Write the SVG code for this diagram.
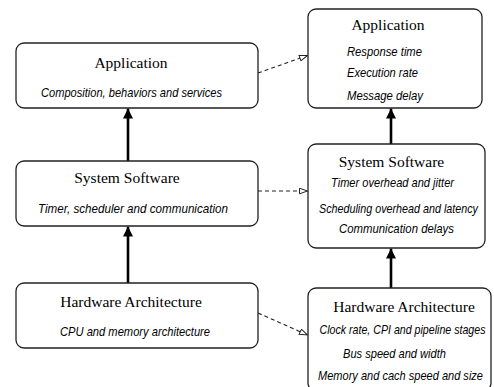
<svg xmlns="http://www.w3.org/2000/svg" width="494" height="387" viewBox="0 0 494 387">
<style>
.box{fill:#fff;stroke:#222;stroke-width:1.3}
.t{font-family:"Liberation Serif","Times New Roman",serif;font-size:15.5px;fill:#000;text-anchor:middle}
.s{font-family:"Liberation Sans",Arial,sans-serif;font-size:13px;font-style:italic;fill:#000}
.m{text-anchor:middle}
.solid{stroke:#000;stroke-width:2.6;fill:none}
.dash{stroke:#222;stroke-width:1.1;fill:none;stroke-dasharray:4 3}
</style>
<defs>
<marker id="solidHead" viewBox="0 0 10 12" refX="10" refY="6" markerWidth="10" markerHeight="12" markerUnits="userSpaceOnUse" orient="auto">
<path d="M0,1 L10,6 L0,11 Z" fill="#000"/>
</marker>
<marker id="openHead" viewBox="0 0 9 7" refX="8.5" refY="3.5" markerWidth="9" markerHeight="7" markerUnits="userSpaceOnUse" orient="auto">
<path d="M0.5,0.7 L8.5,3.5 L0.5,6.3 Z" fill="#fff" stroke="#222" stroke-width="1"/>
</marker>
</defs>
<rect width="494" height="387" fill="#fff"/>
<g id="connectors">
<line class="solid" x1="128" y1="283" x2="128" y2="226.5" marker-end="url(#solidHead)"/>
<line class="solid" x1="128" y1="161" x2="128" y2="108.5" marker-end="url(#solidHead)"/>
<line class="solid" x1="391" y1="288" x2="391" y2="248.5" marker-end="url(#solidHead)"/>
<line class="solid" x1="391" y1="144" x2="391" y2="108.5" marker-end="url(#solidHead)"/>
<line class="dash" x1="258" y1="73" x2="307.5" y2="55.5" marker-end="url(#openHead)"/>
<line class="dash" x1="258" y1="191" x2="307.5" y2="191" marker-end="url(#openHead)"/>
<line class="dash" x1="258" y1="313" x2="307.5" y2="335" marker-end="url(#openHead)"/>
</g>
<g id="left-application">
<rect class="box" x="16" y="43" width="242" height="65" rx="8"/>
<text class="t" x="131" y="68">Application</text>
<text class="s m" x="131.5" y="97" textLength="181" lengthAdjust="spacingAndGlyphs">Composition, behaviors and services</text>
</g>
<g id="left-system-software">
<rect class="box" x="16" y="161" width="242" height="65" rx="8"/>
<text class="t" x="127" y="183">System Software</text>
<text class="s m" x="133" y="213" textLength="190" lengthAdjust="spacingAndGlyphs">Timer, scheduler and communication</text>
</g>
<g id="left-hardware-architecture">
<rect class="box" x="16" y="283" width="242" height="65" rx="8"/>
<text class="t" x="131" y="307">Hardware Architecture</text>
<text class="s m" x="135" y="336" textLength="150" lengthAdjust="spacingAndGlyphs">CPU and memory architecture</text>
</g>
<g id="right-application">
<rect class="box" x="308" y="9" width="174" height="99" rx="8"/>
<text class="t" x="388" y="30">Application</text>
<text class="s" x="347" y="56" textLength="75" lengthAdjust="spacingAndGlyphs">Response time</text>
<text class="s" x="347" y="77" textLength="71" lengthAdjust="spacingAndGlyphs">Execution rate</text>
<text class="s" x="347" y="100" textLength="76" lengthAdjust="spacingAndGlyphs">Message delay</text>
</g>
<g id="right-system-software">
<rect class="box" x="308" y="144" width="177" height="104" rx="8"/>
<text class="t" x="391.5" y="167">System Software</text>
<text class="s m" x="392.5" y="187" textLength="123" lengthAdjust="spacingAndGlyphs">Timer overhead and jitter</text>
<text class="s m" x="398.5" y="213" textLength="159" lengthAdjust="spacingAndGlyphs">Scheduling overhead and latency</text>
<text class="s m" x="396.5" y="233" textLength="115" lengthAdjust="spacingAndGlyphs">Communication delays</text>
</g>
<g id="right-hardware-architecture">
<rect class="box" x="308" y="288" width="183" height="103" rx="8"/>
<text class="t" x="404" y="312">Hardware Architecture</text>
<text class="s m" x="402.5" y="334" textLength="166" lengthAdjust="spacingAndGlyphs">Clock rate, CPI and pipeline stages</text>
<text class="s m" x="394.5" y="358" textLength="103" lengthAdjust="spacingAndGlyphs">Bus speed and width</text>
<text class="s m" x="400.5" y="380" textLength="165" lengthAdjust="spacingAndGlyphs">Memory and cach speed and size</text>
</g>
</svg>
